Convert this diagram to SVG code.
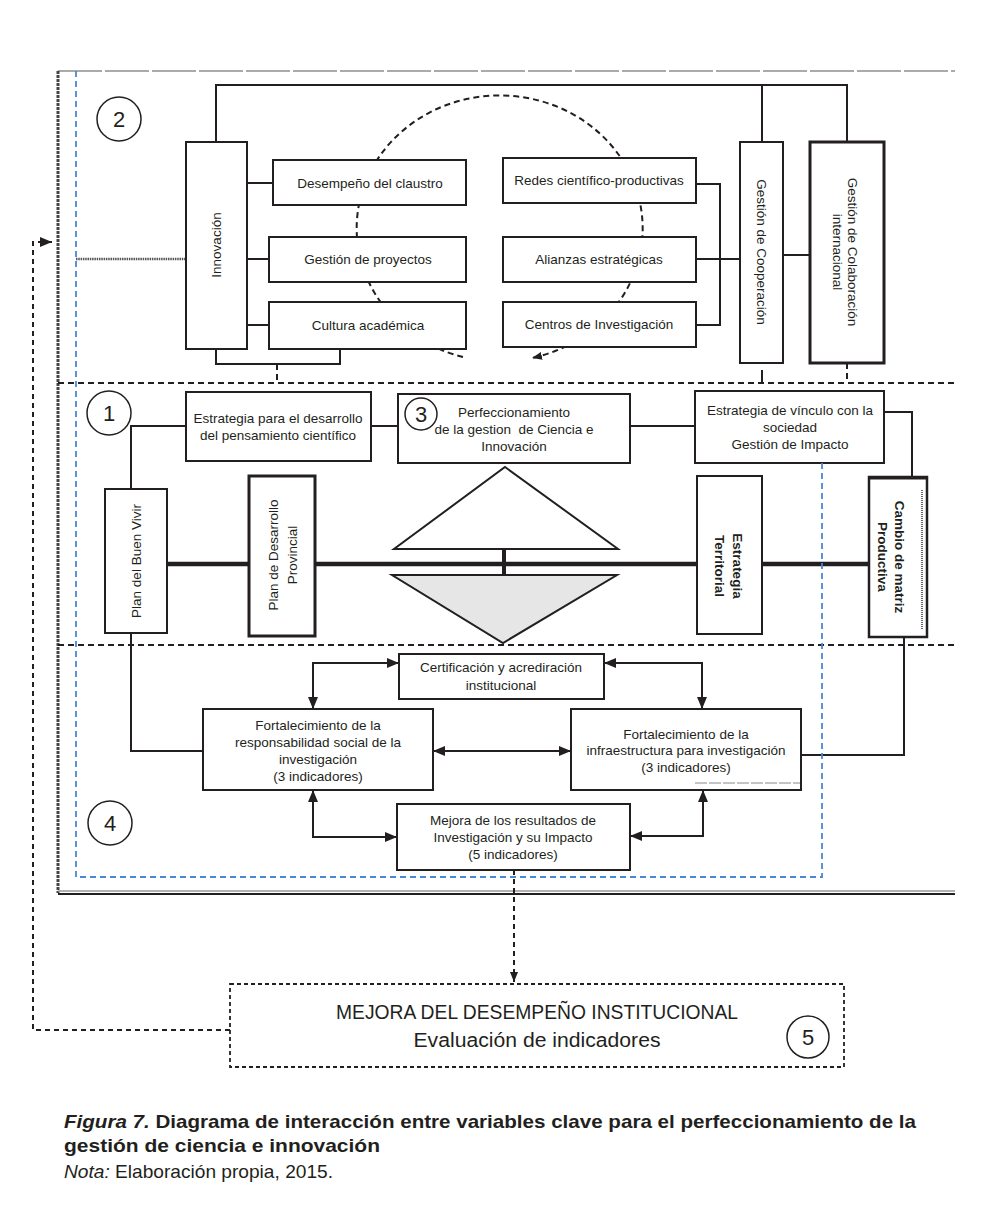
<svg xmlns="http://www.w3.org/2000/svg" width="992" height="1215" viewBox="0 0 992 1215">
<defs>
<marker id="ah" markerUnits="userSpaceOnUse" markerWidth="12" markerHeight="10" refX="12" refY="5" orient="auto-start-reverse" viewBox="0 0 12 10"><path d="M0,0 L12,5 L0,10 z" fill="#231f20"/></marker>
<marker id="ahs" markerUnits="userSpaceOnUse" markerWidth="10" markerHeight="8" refX="10" refY="4" orient="auto-start-reverse" viewBox="0 0 10 8"><path d="M0,0 L10,4 L0,8 z" fill="#231f20"/></marker>
</defs>
<style>
text{font-family:"Liberation Sans",Arial,sans-serif;fill:#231f20}
.t{font-size:13.5px;text-anchor:middle}
.n{font-size:22px;text-anchor:middle}
.box{fill:#fff;stroke:#231f20;stroke-width:2}
.thick{fill:#fff;stroke:#231f20;stroke-width:3}
.ln{fill:none;stroke:#231f20;stroke-width:2}
.dash{fill:none;stroke:#231f20;stroke-width:2;stroke-dasharray:6 4}
.circ{fill:#fff;stroke:#231f20;stroke-width:1.5}
.cap{font-size:19px}
</style>
<rect width="992" height="1215" fill="#fff"/>

<g id="frame">
<line x1="58" y1="71" x2="955" y2="71" stroke="#aaa" stroke-width="2" stroke-dasharray="44 3"/>
<line x1="58" y1="71" x2="58" y2="893" stroke="#444" stroke-width="3" stroke-dasharray="3 1"/>
<line x1="58" y1="891" x2="955" y2="891" stroke="#999" stroke-width="1.5"/>
<line x1="58" y1="894" x2="955" y2="894" stroke="#231f20" stroke-width="2"/>
<line x1="58" y1="383" x2="955" y2="383" class="dash"/>
<line x1="58" y1="645" x2="955" y2="645" class="dash"/>
</g>

<g id="connectors">
<path d="M463,357 A143 133 0 1 1 532,358" class="dash" stroke-width="1.8" marker-end="url(#ahs)"/>
<line x1="76" y1="259" x2="186" y2="259" stroke="#555" stroke-width="2.5" stroke-dasharray="1.5 0.8"/>
<path d="M216,142 V85 H847 V142" class="ln"/>
<path d="M762,85 V142" class="ln"/>
<path d="M247,183 H273 M247,259 H269 M247,325 H269" class="ln"/>
<path d="M216,349 V364 H340 V349" class="ln"/>
<path d="M277,364 V383" class="dash"/>
<path d="M696,184 H720 V325 H696 M696,259 H740" class="ln"/>
<path d="M783,255 H810" class="ln"/>
<path d="M762,370 V382" class="ln"/>
<path d="M847,363 V383" class="dash"/>
<path d="M186,426 H131 V489" class="ln"/>
<path d="M371,426 H398 M630,426 H695" class="ln"/>
<path d="M884,412 H912 V477" class="ln"/>
<path d="M167,564 H249 M315,564 H697 M762,564 H869" fill="none" stroke="#231f20" stroke-width="4.5"/>
<path d="M504,549 V575" fill="none" stroke="#231f20" stroke-width="4"/>
<path d="M131,633 V751 H203" class="ln"/>
<path d="M904,637 V755 H801" class="ln"/>
<path d="M399,663 H313 V709" class="ln" marker-start="url(#ah)" marker-end="url(#ah)"/>
<path d="M604,663 H702 V709" class="ln" marker-start="url(#ah)" marker-end="url(#ah)"/>
<path d="M433,751 H571" class="ln" marker-start="url(#ah)" marker-end="url(#ah)"/>
<path d="M313,790 V837 H397" class="ln" marker-start="url(#ah)" marker-end="url(#ah)"/>
<path d="M630,836 H703 V790" class="ln" marker-start="url(#ah)" marker-end="url(#ah)"/>
<path d="M514,870 V982" fill="none" stroke="#231f20" stroke-width="2" stroke-dasharray="5 4" marker-end="url(#ahs)"/>
<path d="M230,1030 H33 V242 H52" fill="none" stroke="#231f20" stroke-width="2" stroke-dasharray="5 4" marker-end="url(#ah)"/>
</g>

<g id="n2"><circle cx="119" cy="119" r="22" class="circ"/><text x="119" y="127" class="n">2</text></g>
<g id="innovacion"><rect x="186" y="142" width="61" height="207" class="box"/><text class="t" transform="translate(221,245) rotate(-90)">Innovación</text></g>
<g id="desempeno"><rect x="273" y="160" width="193" height="45" class="box"/><text x="370" y="188" class="t">Desempeño del claustro</text></g>
<g id="proyectos"><rect x="269" y="237" width="197" height="45" class="box"/><text x="368" y="264" class="t">Gestión de proyectos</text></g>
<g id="cultura"><rect x="269" y="302" width="197" height="47" class="box"/><text x="368" y="330" class="t">Cultura académica</text></g>
<g id="redes"><rect x="503" y="158" width="193" height="45" class="box"/><text x="599" y="185" class="t">Redes científico-productivas</text></g>
<g id="alianzas"><rect x="503" y="237" width="193" height="45" class="box"/><text x="599" y="264" class="t">Alianzas estratégicas</text></g>
<g id="centros"><rect x="503" y="302" width="193" height="45" class="box"/><text x="599" y="329" class="t">Centros de Investigación</text></g>
<g id="cooperacion"><rect x="740" y="142" width="43" height="221" class="box"/><text class="t" transform="translate(757,252) rotate(90)">Gestión de Cooperación</text></g>
<g id="colaboracion"><rect x="810" y="142" width="74" height="221" class="thick" stroke-width="2.5"/><text class="t" transform="translate(848,252) rotate(90)">Gestión de Colaboración</text><text class="t" transform="translate(833,252) rotate(90)">internacional</text></g>

<g id="n1"><circle cx="109" cy="413" r="22" class="circ"/><text x="109" y="421" class="n">1</text></g>
<g id="estrategia-pensamiento"><rect x="186" y="392" width="185" height="69" class="box"/><text x="278" y="423" class="t">Estrategia para el desarrollo</text><text x="278" y="440" class="t">del pensamiento científico</text></g>
<g id="perfeccionamiento"><rect x="398" y="394" width="232" height="69" class="box"/><text x="514" y="417" class="t">Perfeccionamiento</text><text x="514" y="434" class="t" xml:space="preserve">de la gestion  de Ciencia e</text><text x="514" y="451" class="t">Innovación</text><circle cx="421" cy="414" r="16" class="circ"/><text x="421" y="422" class="n">3</text></g>
<g id="estrategia-vinculo"><rect x="695" y="391" width="189" height="72" class="box"/><text x="790" y="415" class="t">Estrategia de vínculo con la</text><text x="790" y="432" class="t">sociedad</text><text x="790" y="449" class="t">Gestión de Impacto</text></g>
<g id="buen-vivir"><rect x="105" y="489" width="62" height="144" class="box"/><text class="t" transform="translate(141,561) rotate(-90)">Plan del Buen Vivir</text></g>
<g id="desarrollo-provincial"><rect x="249" y="476" width="66" height="160" class="thick"/><text class="t" transform="translate(278,555) rotate(-90)">Plan de Desarrollo</text><text class="t" transform="translate(297,555) rotate(-90)">Provincial</text></g>
<g id="triangulos"><polygon points="505,467 618,549 394,549" fill="#fff" stroke="#231f20" stroke-width="2"/><polygon points="392,575 617,575 503,643" fill="#e6e6e6" stroke="#231f20" stroke-width="2"/></g>
<g id="estrategia-territorial"><rect x="697" y="476" width="65" height="158" class="box"/><text class="t" font-size="12px" font-weight="bold" transform="translate(733,566) rotate(90)">Estrategia</text><text class="t" font-size="12px" font-weight="bold" transform="translate(715,566) rotate(90)">Territorial</text></g>
<g id="matriz"><rect x="869" y="477" width="58" height="160" fill="#fff" stroke="#231f20" stroke-width="2.5"/><line x1="869" y1="478" x2="927" y2="478" stroke="#231f20" stroke-width="3"/><line x1="922" y1="490" x2="922" y2="630" stroke="#666" stroke-width="2" stroke-dasharray="1 1"/><text class="t" font-size="12px" font-weight="bold" transform="translate(895,557) rotate(90)">Cambio de matriz</text><text class="t" font-size="12px" font-weight="bold" transform="translate(878,557) rotate(90)">Productiva</text></g>

<g id="certificacion"><rect x="399" y="654" width="205" height="45" class="box"/><text x="501" y="672" class="t">Certificación y acrediración</text><text x="501" y="690" class="t">institucional</text></g>
<g id="responsabilidad"><rect x="203" y="709" width="230" height="81" class="box"/><text x="318" y="730" class="t">Fortalecimiento de la</text><text x="318" y="747" class="t">responsabilidad social de la</text><text x="318" y="764" class="t">investigación</text><text x="318" y="781" class="t">(3 indicadores)</text></g>
<g id="infraestructura"><rect x="571" y="709" width="230" height="81" class="box"/><text x="686" y="739" class="t">Fortalecimiento de la</text><text x="686" y="755" class="t">infraestructura para investigación</text><text x="686" y="772" class="t">(3 indicadores)</text><line x1="695" y1="783" x2="800" y2="783" stroke="#888" stroke-width="1" stroke-dasharray="12 2"/></g>
<g id="resultados"><rect x="397" y="804" width="233" height="66" class="box"/><text x="513" y="825" class="t">Mejora de los resultados de</text><text x="513" y="842" class="t">Investigación y su Impacto</text><text x="513" y="859" class="t">(5 indicadores)</text></g>
<g id="n4"><circle cx="110" cy="823" r="22" class="circ"/><text x="110" y="831" class="n">4</text></g>

<g id="blue"><path d="M76,71 V877 H822 V463" fill="none" stroke="#4a86d8" stroke-width="1.8" stroke-dasharray="6 4"/></g>

<g id="desempeno-institucional"><rect x="230" y="984" width="614" height="83" fill="#fff" stroke="#231f20" stroke-width="1.8" stroke-dasharray="4 3"/><text x="537" y="1019" font-size="20px" text-anchor="middle" textLength="402" lengthAdjust="spacingAndGlyphs">MEJORA DEL DESEMPEÑO INSTITUCIONAL</text><text x="537" y="1047" font-size="20px" text-anchor="middle" textLength="247" lengthAdjust="spacingAndGlyphs">Evaluación de indicadores</text><circle cx="808" cy="1037" r="21" class="circ"/><text x="808" y="1045" class="n">5</text></g>

<g id="caption">
<text x="64" y="1128" class="cap" font-weight="bold" textLength="852" lengthAdjust="spacingAndGlyphs"><tspan font-style="italic">Figura 7.</tspan> Diagrama de interacción entre variables clave para el perfeccionamiento de la</text>
<text x="64" y="1152" class="cap" font-weight="bold" textLength="316" lengthAdjust="spacingAndGlyphs">gestión de ciencia e innovación</text>
<text x="64" y="1178" class="cap" textLength="269" lengthAdjust="spacingAndGlyphs"><tspan font-style="italic">Nota:</tspan> Elaboración propia, 2015.</text>
</g>
</svg>
